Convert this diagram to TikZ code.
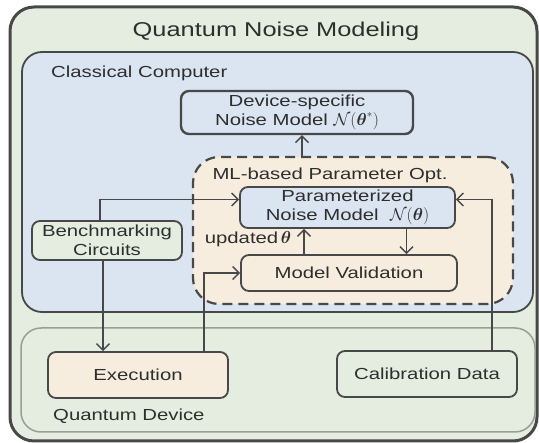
\documentclass[tikz,border=0pt]{standalone}
\usepackage{amsmath,amssymb}
\usepackage{fontspec}
\setmainfont{Liberation Sans}[FakeStretch=1.27]
\usepackage{tikz}
\usetikzlibrary{arrows.meta,positioning,calc}
\definecolor{linegray}{RGB}{72,72,72}
\definecolor{devgray}{RGB}{150,160,150}
\definecolor{greenbg}{RGB}{228,237,224}
\definecolor{bluebg}{RGB}{218,229,241}
\definecolor{beigebg}{RGB}{246,237,222}

\begin{document}
\begin{tikzpicture}[x=1pt, y=-1pt,
    frame/.style={draw=linegray, rounded corners=20pt, line width=1.8pt},
    box/.style={draw=linegray, rounded corners=8pt, line width=1.8pt,
                align=center, font=\fontsize{16}{19}\selectfont, inner sep=0pt,
                text=black!82},
    bluebox/.style={box, fill=bluebg},
    beigebox/.style={box, fill=beigebg},
    greenbox/.style={box, fill=greenbg},
    arr/.style={-{Straight Barb[length=6.5pt, width=13pt, line width=1.4pt]},
                line width=1.6pt, draw=linegray},
    lbl/.style={font=\fontsize{16}{19}\selectfont, text=black!82, inner sep=0pt}
]
\useasboundingbox (0,0) rectangle (539,443);

% containers
\node[frame, fill=greenbg, line width=3pt, rounded corners=24pt,
      minimum width=527pt, minimum height=434pt] (outer) at (273.5,224) {};
\node[font=\fontsize{20}{24}\selectfont, text=black!82] (title) at (276,31) {Quantum Noise Modeling};

\node[frame, fill=bluebg, minimum width=511pt, minimum height=260pt] (classic) at (277.5,182) {};
\node[lbl, anchor=west] (classlbl) at (51,73) {Classical Computer};

\node[frame, draw=devgray, fill=greenbg, line width=1.5pt,
      minimum width=514pt, minimum height=104pt] (qdev) at (278,380) {};
\node[lbl, anchor=west] (qdevlbl) at (53,416) {Quantum Device};

\node[frame, dashed, dash pattern=on 10pt off 6pt, fill=beigebg, line width=2.2pt,
      rounded corners=26pt, minimum width=320pt, minimum height=147pt] (mlopt) at (353,230.5) {};
\node[lbl] (mllbl) at (330,175) {ML-based Parameter Opt.};

% boxes
\node[bluebox, line width=2.4pt, minimum width=232pt, minimum height=43pt] (device) at (297,112.5)
    {Device-specific\\Noise Model $\mathcal{N}(\boldsymbol{\theta}^{*})$};
\node[bluebox, minimum width=215pt, minimum height=41pt] (param) at (347.5,207.5)
    {Parameterized\\Noise Model\ \ $\mathcal{N}(\boldsymbol{\theta})$};
\node[beigebox, minimum width=216pt, minimum height=36pt] (valid) at (349,273) {Model Validation};
\node[greenbox, minimum width=150pt, minimum height=39pt] (bench) at (107,240.5) {Benchmarking\\Circuits};
\node[beigebox, minimum width=180pt, minimum height=46pt] (exec) at (138,375) {Execution};
\node[greenbox, minimum width=180pt, minimum height=46pt] (calib) at (427,374) {Calibration Data};
\node[lbl] (updlbl) at (248,239) {updated\,$\boldsymbol{\theta}$};

% connectors
\draw[arr] ([xshift=-51pt]mlopt.north) -- ([xshift=-51pt]mlopt.north |- device.south);
\draw[arr] ([xshift=-7pt]bench.north) |- ([yshift=8pt]param.west);
\draw[arr] ([xshift=-4pt]bench.south) -- ([xshift=-4pt]bench.south |- exec.north);
\draw[arr] ([xshift=66pt]exec.north) |- (valid.west);
\draw[arr] ([xshift=65pt]calib.north) |- ([yshift=8pt]param.east);
\draw[arr] ([xshift=-45pt]valid.north) -- ([xshift=-45pt]valid.north |- param.south);
\draw[arr] ([xshift=59pt]param.south) -- ([xshift=59pt]param.south |- valid.north);
\end{tikzpicture}
\end{document}
